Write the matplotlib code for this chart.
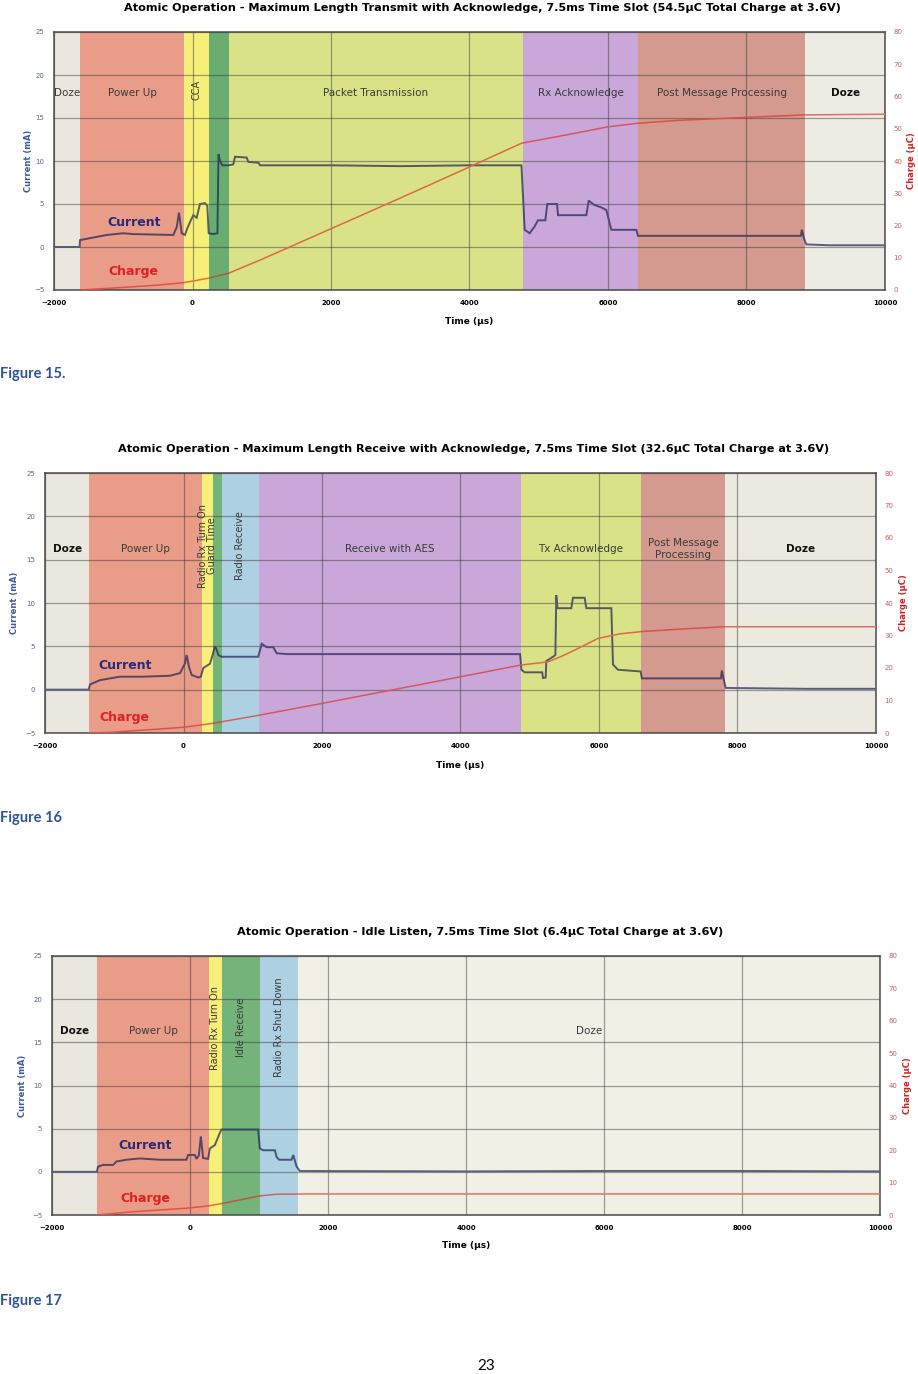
import matplotlib
matplotlib.use("Agg")
import matplotlib.pyplot as plt
import matplotlib.transforms as mtransforms
from matplotlib.colors import to_rgb
from matplotlib.patches import Rectangle

W, H = 918, 1374
NARROW = ["Liberation Sans Narrow", "DejaVu Sans"]

# --- Figure 15: transmit with acknowledge ---
tx_edges = [-2000, -1620, -120, 240, 520, 4770, 6440, 8850, 10000]
tx_phases = ["Doze", "Power Up", "CCA", "", "Packet Transmission", "Rx Acknowledge",
             "Post Message Processing", "Doze"]
tx_cur_t = [-2000, -1630, -1625, -1240, -1000, -855, -277, -228, -195, -156, -108, -84, -36, 12,
            60, 108, 180, 214, 234, 300, 360, 375, 397, 430, 517, 589, 614, 782, 807, 951, 976,
            2000, 3000, 4000, 4750, 4797, 4869, 4941, 4989, 5095, 5124, 5264, 5278, 5687, 5721,
            5800, 5903, 5976, 6048, 6409, 6433, 7000, 8000, 8785, 8800, 8830, 8864, 9200, 10000]
tx_cur_v = [0.0, 0.0, 0.8, 1.4, 1.6, 1.5, 1.4, 2.3, 4.0, 1.6, 1.4, 2.0, 2.9, 3.7,
            3.4, 5.0, 5.1, 4.8, 1.6, 1.5, 1.6, 10.8, 10.0, 9.5, 9.5, 9.6, 10.5, 10.4, 9.9, 9.8, 9.5,
            9.5, 9.4, 9.5, 9.5, 2.0, 1.6, 2.4, 3.1, 3.1, 5.0, 5.0, 3.7, 3.7, 5.4,
            4.9, 4.6, 4.3, 2.0, 2.0, 1.3, 1.3, 1.3, 1.3, 2.0, 1.0, 0.3, 0.2, 0.2]
tx_chg_t = [-1620, -1000, -500, -120, 240, 520, 1000, 2000, 3000, 3850, 4750, 5000, 5500, 6000,
            6430, 7000, 7975, 8840, 10000]
tx_chg_v = [0.0, 0.8, 1.5, 2.3, 3.7, 5.2, 9.5, 19.0, 28.5, 36.7, 45.5, 46.5, 48.5, 50.6,
            51.7, 52.6, 53.5, 54.3, 54.5]

# --- Figure 16: receive with acknowledge ---
rx_edges = [-2000, -1360, 263, 430, 551, 1095, 4869, 6611, 7815, 10000]
rx_phases = ["Doze", "Power Up", "Radio Rx Turn On\nGuard Time", "", "Radio Receive",
             "Receive with AES", "Tx Acknowledge", "Post Message\nProcessing", "Doze"]
rx_cur_t = [-2000, -1370, -1350, -1206, -917, -580, -200, -51, 20, 46, 80, 118, 214, 250, 286,
            383, 420, 455, 480, 503, 551, 1080, 1129, 1201, 1297, 1346, 1500, 3000, 4860, 4880,
            4927, 5180, 5191, 5230, 5239, 5336, 5370, 5383, 5400, 5600, 5624, 5793, 5817, 6178,
            6202, 6274, 6600, 6620, 7200, 7760, 7775, 7800, 7830, 9000, 10000]
rx_cur_v = [0.0, 0.0, 0.6, 1.1, 1.5, 1.5, 1.6, 1.9, 3.0, 4.0, 2.6, 1.7, 1.4, 1.5, 2.5,
            3.0, 4.0, 5.0, 4.6, 4.0, 3.8, 3.8, 5.3, 4.9, 4.9, 4.2, 4.1, 4.1, 4.1, 2.3,
            2.0, 2.0, 1.35, 1.4, 3.3, 3.8, 4.0, 10.9, 9.4, 9.4, 10.6, 10.6, 9.4, 9.4,
            2.9, 2.3, 2.1, 1.3, 1.3, 1.3, 2.2, 1.2, 0.2, 0.1, 0.1]
rx_chg_t = [-1360, -1060, -500, 0, 430, 1100, 2000, 3000, 4000, 4869, 5263, 5450, 5648, 5985,
            6300, 6611, 7200, 7815, 10000]
rx_chg_v = [0.0, 0.2, 1.0, 1.75, 3.0, 5.5, 9.1, 13.2, 17.3, 20.9, 21.9, 23.5, 25.5, 29.1,
            30.5, 31.2, 32.0, 32.7, 32.7]

# --- Figure 17: idle listen ---
il_edges = [-2000, -1347, 273, 466, 1012, 1568, 10000]
il_phases = ["Doze", "Power Up", "Radio Rx Turn On", "Idle Receive", "Radio Rx Shut Down", "Doze"]
il_cur_t = [-2000, -1350, -1333, -1260, -1115, -1066, -921, -728, -438, -51, -27, 70, 94, 128,
            157, 190, 263, 287, 360, 432, 457, 988, 1012, 1060, 1230, 1254, 1290, 1472, 1496,
            1545, 1592, 4000, 6000, 8000, 10000]
il_cur_v = [0.0, 0.0, 0.6, 0.8, 0.8, 1.2, 1.4, 1.55, 1.4, 1.4, 1.95, 1.95, 1.5, 1.9,
            4.1, 1.6, 1.5, 2.7, 3.1, 4.5, 4.9, 4.9, 2.7, 2.5, 2.5, 1.75, 1.4, 1.4, 1.95,
            0.6, 0.1, 0.05, 0.1, 0.1, 0.05]
il_chg_t = [-1347, -825, -51, 263, 480, 1012, 1254, 1600, 10000]
il_chg_v = [0.0, 1.0, 2.1, 2.8, 3.6, 5.9, 6.4, 6.5, 6.5]

x_ticks = [-2000, 0, 2000, 4000, 6000, 8000, 10000]
cur_ticks = [-5, 0, 5, 10, 15, 20, 25]
chg_ticks = [0, 10, 20, 30, 40, 50, 60, 70, 80]

DOZE, POWER, YEL, GRN = "#eae7de", "#e99c88", "#f6ef78", "#74b37a"
PACKET, PURPLE, POST, BLUE = "#d9e287", "#c9a8d9", "#d49a8f", "#aed0e3"
CUR_COL, CHG_COL = "#1a1f52", "#dc2a22"


def mix(a, b, w):
    a, b = to_rgb(a), to_rgb(b)
    return tuple(x * (1 - w) + y * w for x, y in zip(a, b))


def tinted(ax, t, v, base, edges, colors, w, lw):
    # one copy of the trace per phase, clipped to it and tinted by the background
    trans = mtransforms.blended_transform_factory(ax.transData, ax.transAxes)
    for x0, x1, c in zip(edges[:-1], edges[1:], colors):
        ln, = ax.plot(t, v, color=mix(base, c, w), lw=lw, zorder=3, solid_joinstyle="miter")
        ln.set_clip_path(Rectangle((x0, 0), x1 - x0, 1, transform=trans))


def chart(box, title, title_xy, edges, phases, colors, style, cur_t, cur_v, chg_t, chg_v,
          label_y, cur_xy, chg_xy, ylab_x, rlab_x, xlab_y):
    # style per phase: "v" vertical label, "b" bold, "" plain
    l, t, r, b = box
    ax = fig.add_axes([l / W, 1 - b / H, (r - l) / W, (b - t) / H])
    for x0, x1, c in zip(edges[:-1], edges[1:], colors):
        ax.axvspan(x0, x1, color=c, lw=0, zorder=0)
    ax.set_xlim(-2000, 10000)
    ax.set_ylim(-5, 25)
    ax.set_xticks(x_ticks)
    ax.set_yticks(cur_ticks)
    ax.grid(True, color="#303030", alpha=0.45, lw=0.9)
    tinted(ax, cur_t, cur_v, CUR_COL, edges, colors, 0.3, 1.4)
    ax.tick_params(length=0, labelsize=5, pad=7)
    for lab in ax.get_xticklabels():
        lab.set_fontweight("bold")
        lab.set_family(NARROW)
    for lab in ax.get_yticklabels():
        lab.set_color("#5a6890")
    for sp in ax.spines.values():
        sp.set_color("#4a4a4a")
        sp.set_linewidth(1.1)

    ax2 = ax.twinx()
    ax2.set_ylim(0, 80)
    ax2.set_yticks(chg_ticks)
    ax2.tick_params(length=0, labelsize=5, pad=6, colors="#d05a5a")
    tinted(ax2, chg_t, chg_v, CHG_COL, edges, colors, 0.35, 1.1)
    for sp in ax2.spines.values():
        sp.set_visible(False)

    for x0, x1, name, st in zip(edges[:-1], edges[1:], phases, style):
        if not name:
            continue
        vertical = st == "v"
        bb = st == "b"
        ax.text((x0 + x1) / 2, label_y + (0.4 if vertical else 0), name, ha="center",
                va="center", rotation=90 if vertical else 0, fontsize=7 if vertical else 7.5,
                color="#111111" if bb else "#3a3a3a", fontweight="bold" if bb else "normal",
                family=NARROW, linespacing=0.85 if vertical else 1.25, zorder=4)
    ax.text(cur_xy[0], cur_xy[1], "Current", ha="center", va="center", fontsize=9,
            fontweight="bold", color="#2a2a78", family=NARROW, zorder=4)
    ax.text(chg_xy[0], chg_xy[1], "Charge", ha="center", va="center", fontsize=9,
            fontweight="bold", color="#e02020", family=NARROW, zorder=4)

    fig.text(title_xy[0] / W, 1 - title_xy[1] / H, title, ha="center", va="center",
             fontsize=8.1, fontweight="bold", family=NARROW)
    mid = 1 - (t + b) / 2 / H
    fig.text(ylab_x / W, mid, "Current (mA)", rotation=90, ha="center", va="center",
             fontsize=6, fontweight="bold", color="#3a5aa0", family=NARROW)
    fig.text(rlab_x / W, mid, "Charge (\u03bcC)", rotation=90, ha="center", va="center",
             fontsize=6, fontweight="bold", color="#d02020", family=NARROW)
    fig.text((l + r) / 2 / W, 1 - xlab_y / H, "Time (\u03bcs)", ha="center", va="center",
             fontsize=6.5, fontweight="bold", family=NARROW)
    return ax


fig = plt.figure(figsize=(W / 100, H / 100), dpi=100)

chart((54, 32, 885, 290),
      "Atomic Operation - Maximum Length Transmit with Acknowledge, 7.5ms Time Slot "
      "(54.5\u03bcC Total Charge at 3.6V)", (482, 8),
      tx_edges, tx_phases, [DOZE, POWER, YEL, "#69ad70", PACKET, PURPLE, POST, "#ecebe4"],
      ["", "", "v", "", "", "", "", "b"],
      tx_cur_t, tx_cur_v, tx_chg_t, tx_chg_v, 17.9, (-850, 2.9), (-850, -2.9), 28, 911, 321)

chart((45, 473, 876, 733),
      "Atomic Operation - Maximum Length Receive with Acknowledge, 7.5ms Time Slot "
      "(32.6\u03bcC Total Charge at 3.6V)", (474, 449),
      rx_edges, rx_phases, [DOZE, POWER, YEL, GRN, BLUE, PURPLE, PACKET, POST, "#ebe9e0"],
      ["b", "", "v", "", "v", "", "", "", "b"],
      rx_cur_t, rx_cur_v, rx_chg_t, rx_chg_v, 16.2, (-850, 2.8), (-850, -3.2), 15, 903, 765)

chart((52, 956, 880, 1215),
      "Atomic Operation - Idle Listen, 7.5ms Time Slot (6.4\u03bcC Total Charge at 3.6V)",
      (480, 932),
      il_edges, il_phases, [DOZE, POWER, YEL, GRN, BLUE, "#f2f0e5"],
      ["b", "", "v", "v", "v", ""],
      il_cur_t, il_cur_v, il_chg_t, il_chg_v, 16.3, (-650, 3.1), (-650, -3.1), 22, 908, 1246)

LATO = ["Lato", "DejaVu Sans"]
for label, y in [("Figure 15.", 374), ("Figure 16", 818), ("Figure 17", 1301)]:
    fig.text(0.5 / W, 1 - y / H, label, ha="left", va="center", fontsize=10.5,
             fontweight="bold", color="#2e5496", family=LATO)
fig.text(486 / W, 1 - 1366 / H, "23", ha="center", va="center", fontsize=11, family=LATO)

fig.savefig("out.png", dpi=100)
